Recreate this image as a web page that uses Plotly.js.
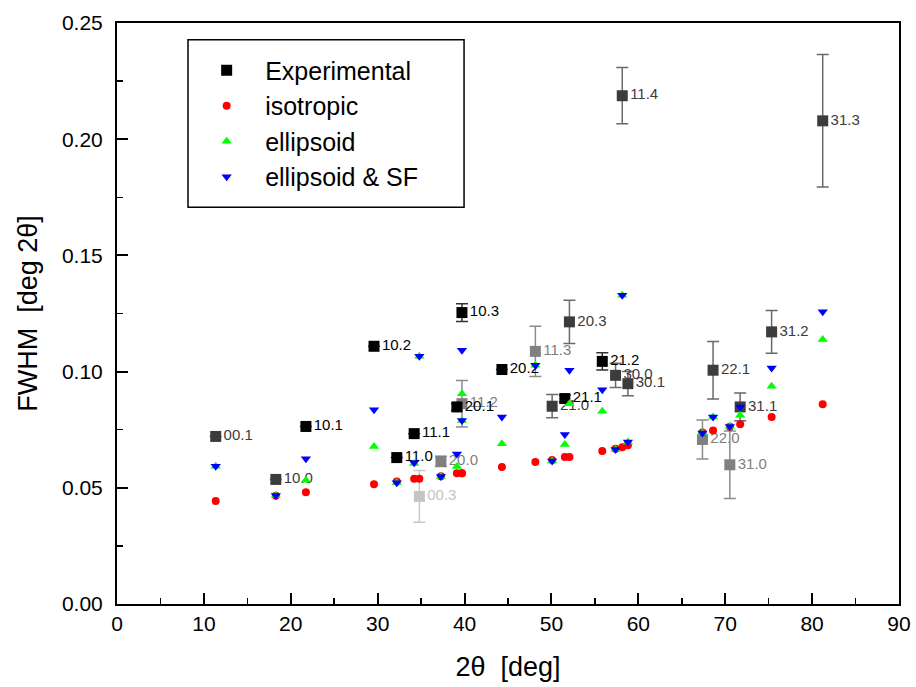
<!DOCTYPE html>
<html>
<head>
<meta charset="utf-8">
<script src="https://cdn.plot.ly/plotly-3.0.1.min.js"></script>
<style>html,body{margin:0;padding:0;background:#fff;}#chart{width:916px;height:687px;}</style>
</head>
<body>
<div id="chart"></div>
<script>
// ---- data ----
const peaks    = ['00.1','10.0','10.1','10.2','11.0','11.1','00.3','20.0','20.1','11.2','10.3','20.2','11.3','21.0','21.1','20.3','21.2','30.0','11.4','30.1','22.0','22.1','31.0','31.1','31.2','31.3'];
const twoTheta = [11.36, 18.28, 21.74, 29.58, 32.2, 34.2, 34.8, 37.28, 39.12, 39.7, 39.7, 44.3, 48.15, 50.08, 51.54, 52.07, 55.85, 57.38, 58.15, 58.8, 67.38, 68.6, 70.53, 71.72, 75.34, 81.22];
const fwhmExp  = [0.0721, 0.0536, 0.0764, 0.1109, 0.0630, 0.0733, 0.0463, 0.0614, 0.0848, 0.0862, 0.1254, 0.1009, 0.1087, 0.0851, 0.0884, 0.1214, 0.1044, 0.0984, 0.2187, 0.0948, 0.0708, 0.1006, 0.0599, 0.0848, 0.1171, 0.2079];
const fwhmErr  = [0, 0, 0, 0, 0, 0, 0.0111, 0.0022, 0.0015, 0.0100, 0.0038, 0, 0.0108, 0.0050, 0.0015, 0.0093, 0.0037, 0.0052, 0.0121, 0.0052, 0.0084, 0.0124, 0.0145, 0.0060, 0.0092, 0.0285];
const expSet   = ['B','B','A','A','A','A','D','C','A','C','A','A','C','B','A','B','A','B','B','B','C','B','C','B','B','B'];
const fwhmIso  = [0.0443, 0.0466, 0.0481, 0.0515, 0.0527, 0.0539, 0.0539, 0.0550, 0.0563, 0.0563, 0.0563, 0.0589, 0.0611, 0.0620, 0.0632, 0.0632, 0.0658, 0.0668, 0.0675, 0.0683, 0.0738, 0.0747, 0.0763, 0.0773, 0.0805, 0.0859];
const fwhmEll  = [0.0593, 0.0467, 0.0532, 0.0678, 0.0522, 0.0605, 0.1066, 0.0549, 0.0592, 0.0790, 0.0905, 0.0690, 0.1027, 0.0615, 0.0686, 0.0862, 0.0829, 0.0665, 0.1329, 0.0697, 0.0736, 0.0805, 0.0764, 0.0812, 0.0937, 0.1138];
const fwhmEllSF= [0.0593, 0.0467, 0.0625, 0.0836, 0.0522, 0.0608, 0.1066, 0.0549, 0.0645, 0.0790, 0.1092, 0.0805, 0.1027, 0.0615, 0.0729, 0.1006, 0.0922, 0.0665, 0.1329, 0.0697, 0.0736, 0.0805, 0.0764, 0.0848, 0.1016, 0.1257];
const seriesNames = ['Experimental','isotropic','ellipsoid','ellipsoid & SF'];
const xRange = [0, 90], yRange = [0, 0.25];

// ---- styles ----
const FONT = 'Arial, "Liberation Sans", sans-serif';
const shade = {A:{m:'#000000',e:'#333333'}, B:{m:'#3c3c3c',e:'#6a6a6a'}, C:{m:'#808080',e:'#8c8c8c'}, D:{m:'#c4c4c4',e:'#c8c8c8'}};
const drawOrder = ['D','C','B','A'];

const traces = [];
drawOrder.forEach(s => {
  const idx = peaks.map((p,i)=>i).filter(i=>expSet[i]===s);
  traces.push({
    type:'scatter', mode:'markers+text',
    x: idx.map(i=>twoTheta[i]), y: idx.map(i=>fwhmExp[i]),
    text: idx.map(i=>peaks[i]), textposition:'middle right',
    textfont:{family:FONT, size:15, color:shade[s].m},
    marker:{symbol:'square', size:11, color:shade[s].m},
    error_y:{type:'data', array: idx.map(i=>fwhmErr[i]), visible:true, color:shade[s].e, thickness:1.5, width:6},
    name: seriesNames[0], legendgroup:'exp', showlegend: s==='A', legendrank:1,
    cliponaxis:false, hoverinfo:'x+y+text'
  });
});
traces.push({type:'scatter', mode:'markers', x:twoTheta, y:fwhmIso, name:seriesNames[1], legendgroup:'iso', legendrank:2,
  marker:{symbol:'circle', size:8, color:'#ff0000'}});
traces.push({type:'scatter', mode:'markers', x:twoTheta, y:fwhmEll, name:seriesNames[2], legendgroup:'ell', legendrank:3,
  marker:{symbol:'triangle-up', size:9, color:'#00ff00'}});
traces.push({type:'scatter', mode:'markers', x:twoTheta, y:fwhmEllSF, name:seriesNames[3], legendgroup:'sf', legendrank:4,
  marker:{symbol:'triangle-down', size:9, color:'#0000ff'}});

const axisCommon = {
  showgrid:false, zeroline:false, showline:true, mirror:true, linecolor:'#000', linewidth:2,
  ticks:'inside', ticklen:11, tickwidth:2, tickcolor:'#000',
  tickfont:{family:FONT, size:21, color:'#000'}
};

const layout = {
  width:916, height:687,
  margin:{l:117, r:17, t:23, b:83},
  paper_bgcolor:'#fff', plot_bgcolor:'#fff',
  font:{family:FONT, color:'#000'},
  showlegend:true,
  legend:{x:0.091, y:0.958, xanchor:'left', yanchor:'top', bgcolor:'rgba(0,0,0,0)', borderwidth:0,
    font:{family:FONT, size:25, color:'#000'}, itemwidth:67, traceorder:'grouped', tracegroupgap:0},
  xaxis: Object.assign({}, axisCommon, {
    range:xRange, dtick:10, tick0:0,
    minor:{dtick:5, ticks:'inside', ticklen:6, tickwidth:1.5, tickcolor:'#000'},
    title:{text:'2θ  [deg]', font:{family:FONT, size:27, color:'#000'}, standoff:23}
  }),
  yaxis: Object.assign({}, axisCommon, {
    range:yRange, dtick:0.05, tick0:0, tickformat:'.2f', ticklabelstandoff:8,
    minor:{dtick:0.025, ticks:'inside', ticklen:6, tickwidth:1.5, tickcolor:'#000'},
    title:{text:'FWHM  [deg 2θ]', font:{family:FONT, size:27, color:'#000'}, standoff:16}
  }),
  shapes:[{type:'rect', xref:'paper', yref:'paper', x0:0.0908, x1:0.4438, y0:0.683, y1:0.971,
    line:{color:'#000', width:1.5}, fillcolor:'rgba(0,0,0,0)'}]
};

Plotly.newPlot('chart', traces, layout, {displayModeBar:false, staticPlot:true});
</script>
</body>
</html>
